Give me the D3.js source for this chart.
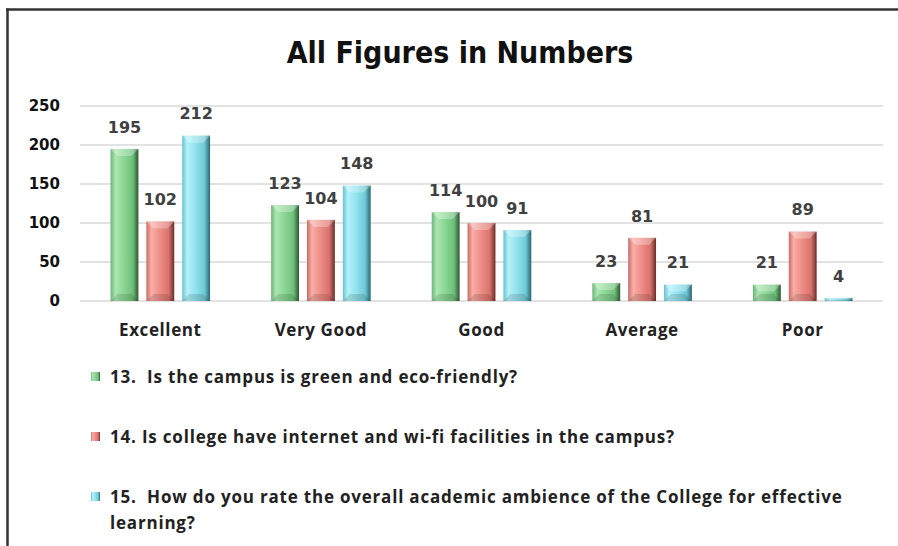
<!DOCTYPE html>
<html>
<head>
<meta charset="utf-8">
<script src="https://cdn.jsdelivr.net/npm/d3@7"></script>
<style>
  html, body { margin: 0; padding: 0; background: #fff; }
  svg { display: block; }
</style>
</head>
<body>
<svg id="chart" width="898" height="546"></svg>
<script>
const categories = ["Excellent", "Very Good", "Good", "Average", "Poor"];
const seriesNames = [
  "13.  Is the campus is green and eco-friendly?",
  "14. Is college have internet and wi-fi facilities in the campus?",
  "15.  How do you rate the overall academic ambience of the College for effective|learning?"
];
const q13 = [195, 123, 114, 23, 21];
const q14 = [102, 104, 100, 81, 89];
const q15 = [212, 148, 91, 21, 4];
const yTicks = [0, 50, 100, 150, 200, 250];
const titleText = "All Figures in Numbers";

const series = [q13, q14, q15];
const palettes = [
  ["#6db578", "#abe6b1", "#88d591", "#6fc07b", "#2c5633"],
  ["#c96c66", "#f8aea7", "#ed8b84", "#d8736c", "#6a2c29"],
  ["#6ac1ce", "#b3f2fa", "#90e1ed", "#6ec9d7", "#2b6770"]
];

const svg = d3.select("#chart");
const defs = svg.append("defs");
palettes.forEach((p, i) => {
  const g = defs.append("linearGradient").attr("id", "g" + i)
    .attr("x1", "0").attr("x2", "1").attr("y1", "0").attr("y2", "0");
  [[0, p[0]], [0.18, p[1]], [0.5, p[2]], [0.8, p[3]], [1, p[4]]].forEach(([o, c]) =>
    g.append("stop").attr("offset", o).attr("stop-color", c));
});

// frame
svg.append("line").attr("x1", 6).attr("x2", 898).attr("y1", 9.5).attr("y2", 9.5)
  .attr("stroke", "#333").attr("stroke-width", 2.5);
svg.append("line").attr("x1", 7.5).attr("x2", 7.5).attr("y1", 8.5).attr("y2", 546)
  .attr("stroke", "#333").attr("stroke-width", 2.5);

// title
svg.append("text").attr("x", 460).attr("y", 63).attr("text-anchor", "middle")
  .attr("font-family", "'DejaVu Sans', sans-serif")
  .attr("font-weight", "bold").attr("font-size", 30).attr("fill", "#111")
  .attr("transform", "translate(460,0) scale(0.9,1) translate(-460,0)")
  .text(titleText);

const x0 = d3.scaleBand().domain(categories).range([80, 883]).paddingInner(0.38).paddingOuter(0.19);
const x1 = d3.scaleBand().domain([0, 1, 2]).range([0, x0.bandwidth()]).paddingInner(0.222);
const y = d3.scaleLinear().domain([0, 250]).range([301, 106]);

// grid
svg.append("g").selectAll("line").data(yTicks).join("line")
  .attr("x1", 80).attr("x2", 883)
  .attr("y1", d => y(d)).attr("y2", d => y(d))
  .attr("stroke", "#d9d9d9").attr("stroke-width", 1.5);

// y axis labels
const yAxis = d3.axisLeft(y).tickValues(yTicks).tickSize(0).tickPadding(0);
const ya = svg.append("g").attr("transform", "translate(60,0)").call(yAxis);
ya.select(".domain").remove();
ya.selectAll("text").attr("font-family", "'DejaVu Sans', sans-serif")
  .attr("font-weight", "bold").attr("font-size", 15).attr("fill", "#111");

// x axis labels
const xAxis = d3.axisBottom(x0).tickSize(0).tickPadding(0);
const xa = svg.append("g").attr("transform", "translate(0,324)").call(xAxis);
xa.select(".domain").remove();
xa.selectAll("text").attr("font-family", "'Open Sans', sans-serif")
  .attr("font-weight", "bold").attr("font-size", 17).attr("letter-spacing", 0.6)
  .attr("fill", "#222");

// bars
categories.forEach((c, ci) => {
  series.forEach((s, si) => {
    const v = s[ci];
    const bx = x0(c) + x1(si);
    const bw = x1.bandwidth();
    const top = y(v);
    const h = y(0) - top;
    const g = svg.append("g");
    g.append("rect").attr("x", bx).attr("y", top).attr("width", bw).attr("height", h)
      .attr("fill", `url(#g${si})`);
    const b = Math.min(7, h / 2);
    g.append("path")
      .attr("d", `M${bx},${top}L${bx + bw},${top}L${bx + bw - b},${top + b}L${bx + b},${top + b}Z`)
      .attr("fill", "#fff").attr("opacity", 0.3);
    g.append("path")
      .attr("d", `M${bx},${top + h}L${bx + bw},${top + h}L${bx + bw - b},${top + h - b}L${bx + b},${top + h - b}Z`)
      .attr("fill", "#000").attr("opacity", 0.12);
    svg.append("text").attr("x", bx + bw / 2).attr("y", top - 22).attr("dy", "0.36em")
      .attr("text-anchor", "middle")
      .attr("font-family", "'DejaVu Sans', sans-serif").attr("font-weight", "bold")
      .attr("font-size", 16).attr("fill", "#404040").text(v);
  });
});

// legend
const legendY = [377, 437, 497];
seriesNames.forEach((name, i) => {
  const ly = legendY[i];
  svg.append("rect").attr("x", 91).attr("y", ly - 5).attr("width", 9).attr("height", 9)
    .attr("fill", `url(#g${i})`);
  name.split("|").forEach((line, li) => {
    svg.append("text").attr("x", 110).attr("y", ly + li * 26).attr("dy", "0.36em")
      .attr("font-family", "'Open Sans', sans-serif").attr("font-weight", "bold")
      .attr("font-size", 17).attr("letter-spacing", 0.8)
      .attr("fill", "#222").style("white-space", "pre")
      .text(line);
  });
});
</script>
</body>
</html>
